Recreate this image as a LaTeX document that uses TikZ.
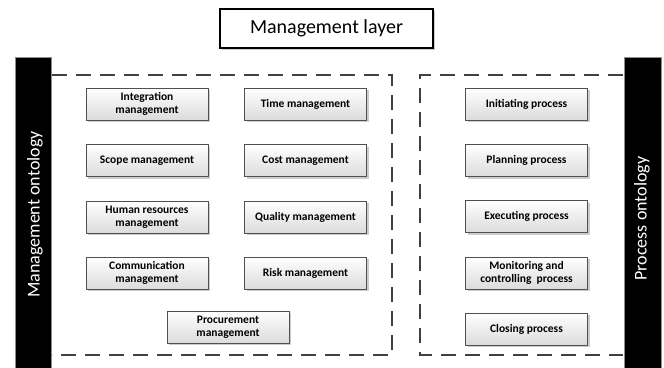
\documentclass[tikz,border=0pt]{standalone}
\usepackage{fontspec}
\setmainfont{Carlito}
\usetikzlibrary{shadows}
\definecolor{edge}{HTML}{505050}
\definecolor{dashc}{HTML}{404040}
\tikzset{
  proc/.style={draw=edge, line width=0.9pt, top color=white, bottom color=black!14,
    minimum width=122pt, minimum height=32pt, align=center, inner sep=1pt,
    font=\fontsize{11.5}{12.5}\selectfont\bfseries,
    drop shadow={shadow xshift=2pt, shadow yshift=-2pt, fill=black!25, opacity=0.8}},
  layerbox/.style={draw=black, line width=1.4pt, fill=white,
    minimum width=213pt, minimum height=39pt, font=\fontsize{20}{24}\selectfont,
    drop shadow={shadow xshift=2pt, shadow yshift=-2pt, fill=black!25, opacity=0.8}},
  bar/.style={draw=black!45, line width=0.8pt, fill=black},
  vlabel/.style={text=white, rotate=90, font=\fontsize{18}{20}\selectfont},
  dashline/.style={draw=dashc, line width=1.6pt, dash pattern=on 15pt off 9pt},
  dashshadow/.style={draw=black!20, line width=1.6pt, dash pattern=on 15pt off 9pt},
}
\begin{document}
\begin{tikzpicture}[x=1pt,y=-1pt]
\useasboundingbox (0,0) rectangle (664,367);
% bars
\draw[bar] (15,57) rectangle (51,370);
\draw[bar] (624,57) rectangle (661,370);
\node[vlabel] (mo) at (35,214.5) {Management ontology};
\node[vlabel] (po) at (642,218.5) {Process ontology};
% title
\node[layerbox] (ml) at (326.5,28.5) {Management layer};
% dashed frames
\coordinate (l1) at (52,75); \coordinate (l2) at (392,75);
\coordinate (l3) at (392,355); \coordinate (l4) at (52,355);
\coordinate (r1) at (623,75); \coordinate (r2) at (420,75);
\coordinate (r3) at (420,355); \coordinate (r4) at (623,355);
\begin{scope}[shift={(1.5,1.5)}]
\draw[dashshadow] (l1) -- (l2) -- (l3) -- (l4);
\draw[dashshadow] (r1) -- (r2) -- (r3) -- (r4);
\end{scope}
\draw[dashline] (l1) -- (l2) -- (l3) -- (l4);
\draw[dashline] (r1) -- (r2) -- (r3) -- (r4);
% management nodes
\node[proc] (integ) at (147,104) {Integration\\management};
\node[proc] (time) at (305.5,104) {Time management};
\node[proc] (scope) at (147,160.5) {Scope management};
\node[proc] (cost) at (305.5,160.5) {Cost management};
\node[proc] (hr) at (147,217) {Human resources\\management};
\node[proc] (qual) at (305.5,217) {Quality management};
\node[proc] (comm) at (147,273) {Communication\\management};
\node[proc] (risk) at (305.5,273) {Risk management};
\node[proc] (proc) at (228,327) {Procurement\\management};
% process nodes
\node[proc] (init) at (526.5,104) {Initiating process};
\node[proc] (plan) at (526.5,160.5) {Planning process};
\node[proc] (exec) at (526.5,216.5) {Executing process};
\node[proc] (mon) at (526.5,273) {Monitoring and\\controlling\ \ process};
\node[proc] (clos) at (526.5,329) {Closing process};
\end{tikzpicture}
\end{document}
